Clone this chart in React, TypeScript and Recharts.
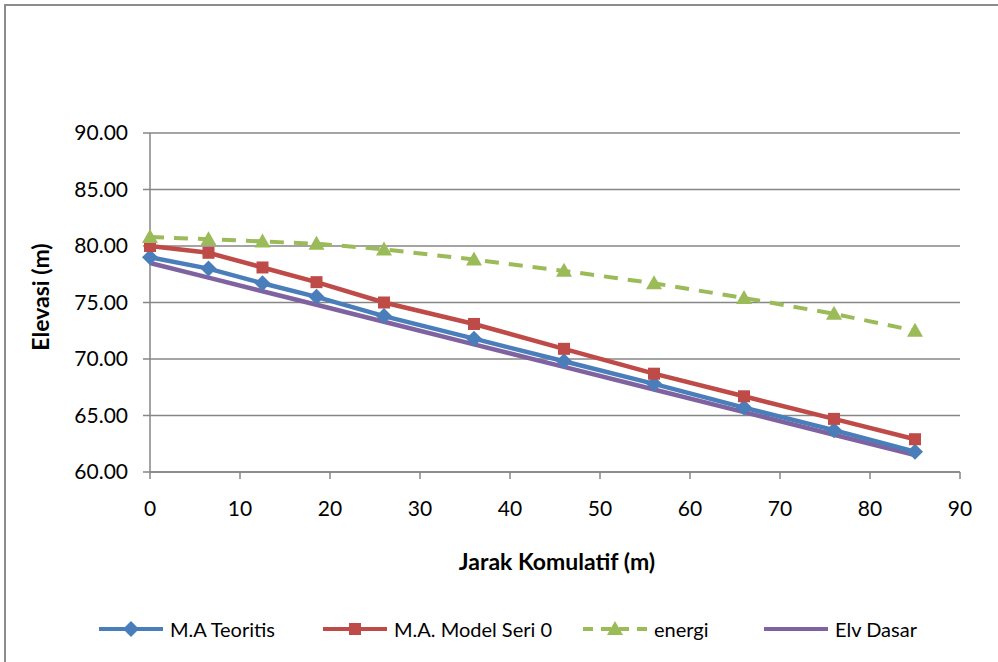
import React from 'react';
import { LineChart, Line, XAxis, YAxis, CartesianGrid } from 'recharts';

const jarak = [0, 6.5, 12.5, 18.5, 26, 36, 46, 56, 66, 76, 85];
const maTeoritis = [79.0, 78.0, 76.7, 75.5, 73.8, 71.8, 69.8, 67.8, 65.7, 63.7, 61.8];
const maModel = [80.0, 79.4, 78.1, 76.8, 75.0, 73.1, 70.9, 68.7, 66.7, 64.7, 62.9];
const energi = [80.8, 80.6, 80.4, 80.2, 79.7, 78.8, 77.8, 76.7, 75.4, 74.0, 72.5];
const elvDasar = [78.5, 77.2, 76.0, 74.8, 73.3, 71.3, 69.3, 67.3, 65.3, 63.3, 61.5];

const xTicks = [0, 10, 20, 30, 40, 50, 60, 70, 80, 90];
const yTicks = [60, 65, 70, 75, 80, 85, 90];

const BLUE = '#4A7EBB';
const RED = '#BE4B48';
const GREEN = '#9BBB59';
const PURPLE = '#7F63A1';
const AXIS = '#868686';
const FONT = 'Lato, "Liberation Sans", sans-serif';

const data = jarak.map((x, i) => ({
  x,
  teoritis: maTeoritis[i],
  model: maModel[i],
  energi: energi[i],
  dasar: elvDasar[i],
}));

const diamond = (cx: number, cy: number, r: number) =>
  `${cx},${cy - r} ${cx + r},${cy} ${cx},${cy + r} ${cx - r},${cy}`;

const DiamondDot = (p: any) => (
  <polygon key={`d${p.index}`} points={diamond(p.cx, p.cy, 8)} fill={BLUE} />
);
const SquareDot = (p: any) => (
  <rect key={`s${p.index}`} x={p.cx - 6} y={p.cy - 6} width={12} height={12} fill={RED} />
);
const TriangleDot = (p: any) => (
  <polygon
    key={`t${p.index}`}
    points={`${p.cx},${p.cy - 8} ${p.cx + 8},${p.cy + 6} ${p.cx - 8},${p.cy + 6}`}
    fill={GREEN}
  />
);

const LegendItem = ({ color, dash, marker, label, width }: any) => (
  <div style={{ display: 'flex', alignItems: 'center', width }}>
    <svg width={66} height={20} style={{ marginRight: 6 }}>
      <line x1={1} y1={10} x2={65} y2={10} stroke={color} strokeWidth={4} strokeDasharray={dash} />
      {marker === 'diamond' && <polygon points={diamond(33, 10, 8)} fill={color} />}
      {marker === 'square' && <rect x={27} y={4} width={12} height={12} fill={color} />}
      {marker === 'triangle' && <polygon points="33,2 41,16 25,16" fill={color} />}
    </svg>
    <span>{label}</span>
  </div>
);

export default function App() {
  return (
    <div style={{ position: 'absolute', left: 0, top: 0, width: 998, height: 662, background: '#fff', fontFamily: FONT }}>
      <div
        style={{
          position: 'absolute',
          left: 4,
          top: 4,
          width: 994,
          height: 658,
          borderTop: '2px solid #8c8c8c',
          borderLeft: '2px solid #8c8c8c',
          boxSizing: 'border-box',
        }}
      />
      <LineChart
        width={998}
        height={662}
        data={data}
        margin={{ top: 133, right: 38, bottom: 140, left: 70 }}
        style={{ position: 'absolute', left: 0, top: 0 }}
      >
        <CartesianGrid vertical={false} stroke={AXIS} strokeWidth={1.5} />
        <XAxis
          dataKey="x"
          type="number"
          domain={[0, 90]}
          ticks={xTicks}
          height={50}
          stroke={AXIS}
          strokeWidth={1.5}
          tickSize={7}
          tickMargin={22}
          tick={{ fill: '#000', fontSize: 21, fontFamily: FONT }}
          label={{
            content: () => (
              <text x={557} y={570} textAnchor="middle" fontSize={23} fontWeight="bold" fontFamily={FONT} fill="#000">
                Jarak Komulatif (m)
              </text>
            ),
          }}
        />
        <YAxis
          type="number"
          domain={[60, 90]}
          ticks={yTicks}
          width={80}
          stroke={AXIS}
          strokeWidth={1.5}
          tickSize={7}
          tickMargin={15}
          tickFormatter={(v: number) => v.toFixed(2)}
          tick={{ fill: '#000', fontSize: 21, fontFamily: FONT }}
          label={{
            content: () => (
              <text
                x={49}
                y={297}
                textAnchor="middle"
                fontSize={23}
                fontWeight="bold"
                fontFamily={FONT}
                fill="#000"
                transform="rotate(-90 49 297)"
              >
                Elevasi (m)
              </text>
            ),
          }}
        />
        <Line type="linear" dataKey="dasar" stroke={PURPLE} strokeWidth={4.5} dot={false} isAnimationActive={false} />
        <Line type="linear" dataKey="teoritis" stroke={BLUE} strokeWidth={4.5} dot={DiamondDot} isAnimationActive={false} />
        <Line type="linear" dataKey="model" stroke={RED} strokeWidth={4.5} dot={SquareDot} isAnimationActive={false} />
        <Line
          type="linear"
          dataKey="energi"
          stroke={GREEN}
          strokeWidth={4}
          strokeDasharray="14 10"
          dot={TriangleDot}
          isAnimationActive={false}
        />
      </LineChart>
      <div
        style={{
          position: 'absolute',
          left: 98,
          top: 617,
          display: 'flex',
          alignItems: 'center',
          fontSize: 20,
          color: '#000',
        }}
      >
        <LegendItem color={BLUE} marker="diamond" label="M.A Teoritis" width={224} />
        <LegendItem color={RED} marker="square" label="M.A. Model  Seri 0" width={260} />
        <LegendItem color={GREEN} marker="triangle" dash="10 8" label="energi" width={181} />
        <LegendItem color={PURPLE} label="Elv Dasar" width={180} />
      </div>
    </div>
  );
}
